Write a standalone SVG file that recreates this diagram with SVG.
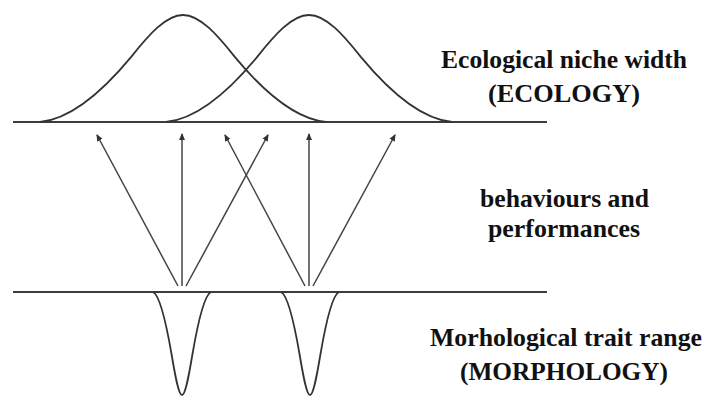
<svg xmlns="http://www.w3.org/2000/svg" width="705" height="397" viewBox="0 0 705 397">
<style>
.axis{stroke:#3c3c3c;stroke-width:2;fill:none}
.curve{stroke:#333;stroke-width:1.8;fill:none}
.arrow{stroke:#444;stroke-width:1.5;fill:none;marker-end:url(#ah)}
.lbl{font-weight:bold;font-size:25px;fill:#111;text-anchor:middle}
</style>
<defs>
<marker id="ah" markerWidth="8" markerHeight="8" refX="6" refY="4" orient="auto" markerUnits="userSpaceOnUse">
<path d="M0,1 L7,4 L0,7 Z" fill="#333"/>
</marker>
<path id="bell" d="M -143 0 C -113 -3, -83 -27.5, -52 -64.9 C -34.7 -86.5, -17.3 -107, 0 -107 C 17.3 -107, 34.7 -86.5, 52 -64.9 C 83 -27.5, 113 -3, 143 0"/>
<path id="trough" d="M -29 0 C -22.6 2.9, -16.6 26.5, -10.4 62.5 C -6.9 83.3, -3.5 103, 0 103 C 3.5 103, 6.9 83.3, 10.4 62.5 C 16.6 26.5, 22.6 2.9, 29 0"/>
</defs>
<g id="ecology">
<line class="axis" x1="13" y1="122" x2="547" y2="122"/>
<use href="#bell" class="curve" transform="translate(183,122)"/>
<use href="#bell" class="curve" transform="translate(309,122)"/>
<text class="lbl" font-family="Liberation Serif, Times New Roman, serif" x="564" y="67.5" textLength="246" lengthAdjust="spacingAndGlyphs">Ecological niche width</text>
<text class="lbl" font-family="Liberation Serif, Times New Roman, serif" x="564" y="102" textLength="152" lengthAdjust="spacingAndGlyphs">(ECOLOGY)</text>
</g>
<g id="behaviour">
<text class="lbl" font-family="Liberation Serif, Times New Roman, serif" x="564.5" y="207" textLength="169" lengthAdjust="spacingAndGlyphs">behaviours and</text>
<text class="lbl" font-family="Liberation Serif, Times New Roman, serif" x="564" y="236.5" textLength="152" lengthAdjust="spacingAndGlyphs">performances</text>
</g>
<g id="morphology">
<line class="axis" x1="13" y1="292" x2="547" y2="292"/>
<use href="#trough" class="curve" transform="translate(182,292)"/>
<use href="#trough" class="curve" transform="translate(310,292)"/>
<text class="lbl" font-family="Liberation Serif, Times New Roman, serif" x="566" y="346" textLength="272" lengthAdjust="spacingAndGlyphs">Morhological trait range</text>
<text class="lbl" font-family="Liberation Serif, Times New Roman, serif" x="564" y="380" textLength="208" lengthAdjust="spacingAndGlyphs">(MORPHOLOGY)</text>
</g>
<g id="connectors">
<line class="arrow" x1="178" y1="286" x2="97" y2="135"/>
<line class="arrow" x1="182" y1="286" x2="182" y2="134"/>
<line class="arrow" x1="186" y1="286" x2="268" y2="135"/>
<line class="arrow" x1="305" y1="286" x2="225" y2="135"/>
<line class="arrow" x1="309" y1="286" x2="309" y2="134"/>
<line class="arrow" x1="313" y1="286" x2="395" y2="135"/>
</g>
</svg>
